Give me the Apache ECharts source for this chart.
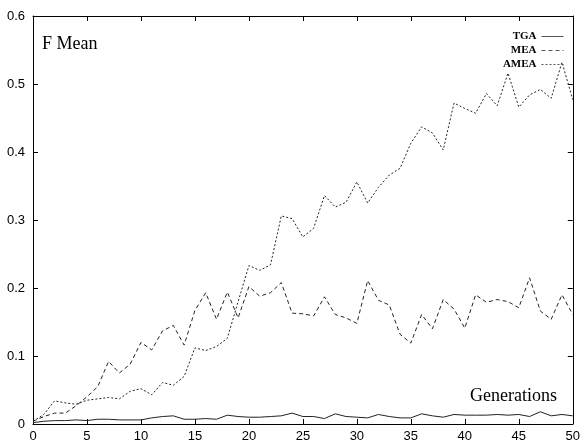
<!DOCTYPE html>
<html><head><meta charset="utf-8">
<script src="https://cdn.jsdelivr.net/npm/echarts@6/dist/echarts.min.js"></script>
<style>html,body{margin:0;padding:0;background:#fff}#c{width:583px;height:443px}</style>
</head><body><div id="c"></div>
<script>
const generations = Array.from({length:51},(_,i)=>i);
const xTicks = [0,5,10,15,20,25,30,35,40,45,50];
const yTicks = [0,0.1,0.2,0.3,0.4,0.5,0.6];
const tga = [0.002,0.004,0.005,0.005,0.006,0.005,0.007,0.007,0.006,0.006,0.006,0.009,0.011,0.012,0.007,0.007,0.008,0.007,0.013,0.011,0.010,0.010,0.011,0.012,0.016,0.011,0.011,0.008,0.015,0.011,0.010,0.009,0.014,0.011,0.009,0.009,0.015,0.012,0.010,0.014,0.013,0.013,0.013,0.014,0.013,0.014,0.011,0.018,0.012,0.014,0.012];
const mea = [0.004,0.011,0.016,0.016,0.027,0.040,0.055,0.092,0.075,0.088,0.120,0.109,0.137,0.145,0.116,0.167,0.193,0.154,0.194,0.156,0.202,0.188,0.193,0.208,0.163,0.162,0.159,0.187,0.161,0.156,0.148,0.211,0.182,0.175,0.132,0.119,0.161,0.140,0.183,0.169,0.141,0.190,0.179,0.183,0.180,0.171,0.215,0.166,0.154,0.190,0.161];
const amea = [0.004,0.014,0.034,0.031,0.029,0.035,0.037,0.039,0.037,0.048,0.052,0.043,0.061,0.057,0.070,0.112,0.108,0.114,0.126,0.180,0.233,0.226,0.234,0.306,0.302,0.275,0.288,0.336,0.319,0.326,0.356,0.325,0.348,0.366,0.376,0.413,0.437,0.428,0.403,0.472,0.464,0.457,0.486,0.468,0.516,0.466,0.484,0.492,0.479,0.532,0.477];
const seriesNames = ['TGA','MEA','AMEA'];

const chart = echarts.init(document.getElementById('c'));
const axisLine = {show:true, onZero:false, lineStyle:{color:'#000', width:1}};
const tick = {show:true, inside:true, length:5, lineStyle:{color:'#000', width:1}};
const labelFont = {color:'#000', fontFamily:'Liberation Sans, Arial, sans-serif', fontSize:13};
const mk = (name, data, type) => ({
  name, type:'line', data: data.map((v,i)=>[generations[i], v]), symbol:'none',
  lineStyle:{color:'#222', width:1, type}, itemStyle:{color:'#222'}, animation:false
});
chart.setOption({
  animation:false,
  grid:{left:33, right:4, top:16, bottom:17, show:false},
  xAxis:[
    {type:'value', min:0, max:50, interval:5, position:'bottom', axisLine, axisTick:tick, splitLine:{show:false},
     axisLabel:{...labelFont, margin:6, showMaxLabel:true}},
    {type:'value', min:0, max:50, interval:5, position:'top', axisLine, axisTick:tick, splitLine:{show:false}, axisLabel:{show:false}}
  ],
  yAxis:[
    {type:'value', min:0, max:0.6, interval:0.1, position:'left', axisLine, axisTick:tick, splitLine:{show:false},
     axisLabel:{...labelFont, margin:8, formatter:v=>String(Math.round(v*10)/10)}},
    {type:'value', min:0, max:0.6, interval:0.1, position:'right', axisLine, axisTick:tick, splitLine:{show:false}, axisLabel:{show:false}}
  ],
  legend:{
    data:seriesNames, orient:'vertical', right:14, top:26, align:'right', itemWidth:22, itemHeight:8, itemGap:3,
    itemStyle:{opacity:0}, lineStyle:{width:1, color:'#555'},
    textStyle:{fontFamily:'Liberation Serif, Times New Roman, serif', fontWeight:'bold', fontSize:11, color:'#000'}
  },
  graphic:[
    {type:'text', left:42, top:35, style:{text:'F Mean', fontFamily:'Liberation Serif, Times New Roman, serif', fontSize:18, fill:'#000'}},
    {type:'text', right:26, top:387, style:{text:'Generations', fontFamily:'Liberation Serif, Times New Roman, serif', fontSize:18, fill:'#000'}}
  ],
  series:[mk('TGA', tga, 'solid'), mk('MEA', mea, [4,3]), mk('AMEA', amea, [2,2])]
});
</script></body></html>
